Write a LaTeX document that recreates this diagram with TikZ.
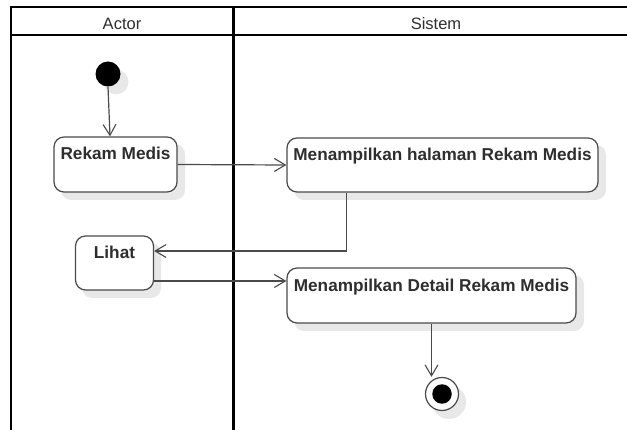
\documentclass[tikz,border=0pt]{standalone}
\usepackage{fontspec}
\setmainfont{Liberation Sans}
\usetikzlibrary{arrows.meta}
\definecolor{inkdark}{HTML}{2E2E2E}
\definecolor{edgegray}{HTML}{4A4A4A}
\definecolor{shadowgray}{HTML}{E8E8E8}
\begin{document}
\begin{tikzpicture}[x=1pt,y=-1pt,
  lanehead/.style={font=\fontsize{16.5}{19}\selectfont, text=inkdark, anchor=base, inner sep=0pt},
  actbox/.style={draw=edgegray, line width=1.2pt, rounded corners=10pt, fill=white,
    inner sep=0pt, minimum width=#1},
  acttext/.style={font=\fontsize{17.2}{20}\selectfont\bfseries, text=inkdark, anchor=base, inner sep=0pt},
  flow/.style={draw=edgegray, line width=1.2pt, -{Straight Barb[length=11pt,width=13pt,line width=1.1pt]}},
  shade/.style={fill=shadowgray, draw=none}
]
\useasboundingbox (0,0) rectangle (627,430);
\clip (0,0) rectangle (627,430);

% swimlane frame
\draw[line width=2pt] (11,7) rectangle (640,445);
\draw[line width=2pt] (11,35) -- (640,35);
\draw[line width=3pt] (233,7) -- (233,445);
\node[lanehead] (hactor) at (122,29.5) {Actor};
\node[lanehead] (hsistem) at (436,29.5) {Sistem};

% drop shadows
\fill[shade] (116,82) circle (12.5);
\fill[shade, rounded corners=10pt] (61,144) rectangle (185,200);
\fill[shade, rounded corners=10pt] (294,145) rectangle (606,200);
\fill[shade, rounded corners=10pt] (82,243) rectangle (161,298);
\fill[shade, rounded corners=10pt] (294,275) rectangle (584,331);
\fill[shade] (449,402) circle (17);

% initial node
\node[circle, fill=black, minimum size=25pt, inner sep=0pt] (start) at (108,74) {};

% activities
\node[actbox=123pt, minimum height=55pt] (rm) at (115.5,164.5) {};
\node[acttext] at ([yshift=-23.5pt]rm.north) {Rekam Medis};

\node[actbox=311pt, minimum height=54pt] (hal) at (442.5,165) {};
\node[acttext] at ([yshift=-23.5pt]hal.north) {Menampilkan halaman Rekam Medis};

\node[actbox=78pt, minimum height=54pt] (lihat) at (114.5,263) {};
\node[acttext] at ([yshift=-23pt]lihat.north) {Lihat};

\node[actbox=289pt, minimum height=55pt] (detail) at (431.5,295.5) {};
\node[acttext] at ([yshift=-24pt]detail.north) {Menampilkan Detail Rekam Medis};

% final node
\node[circle, draw=edgegray, line width=1.2pt, fill=white, minimum size=33pt, inner sep=0pt] (fin) at (442,394) {};
\node[circle, fill=black, minimum size=19.5pt, inner sep=0pt] (finc) at (fin.center) {};

% control flow
\draw[flow] (start.south) -- ([xshift=2pt]start.south |- rm.north);
\draw[flow] (rm.east) -- (hal.west);
\draw[flow] ([xshift=60pt]hal.south west) |- ([yshift=12pt]lihat.east);
\draw[flow] ([yshift=-18pt]lihat.east) -- ([yshift=-18pt]lihat.east -| detail.west);
\draw[flow] (detail.south) -- (detail.south |- fin.north);
\end{tikzpicture}
\end{document}
